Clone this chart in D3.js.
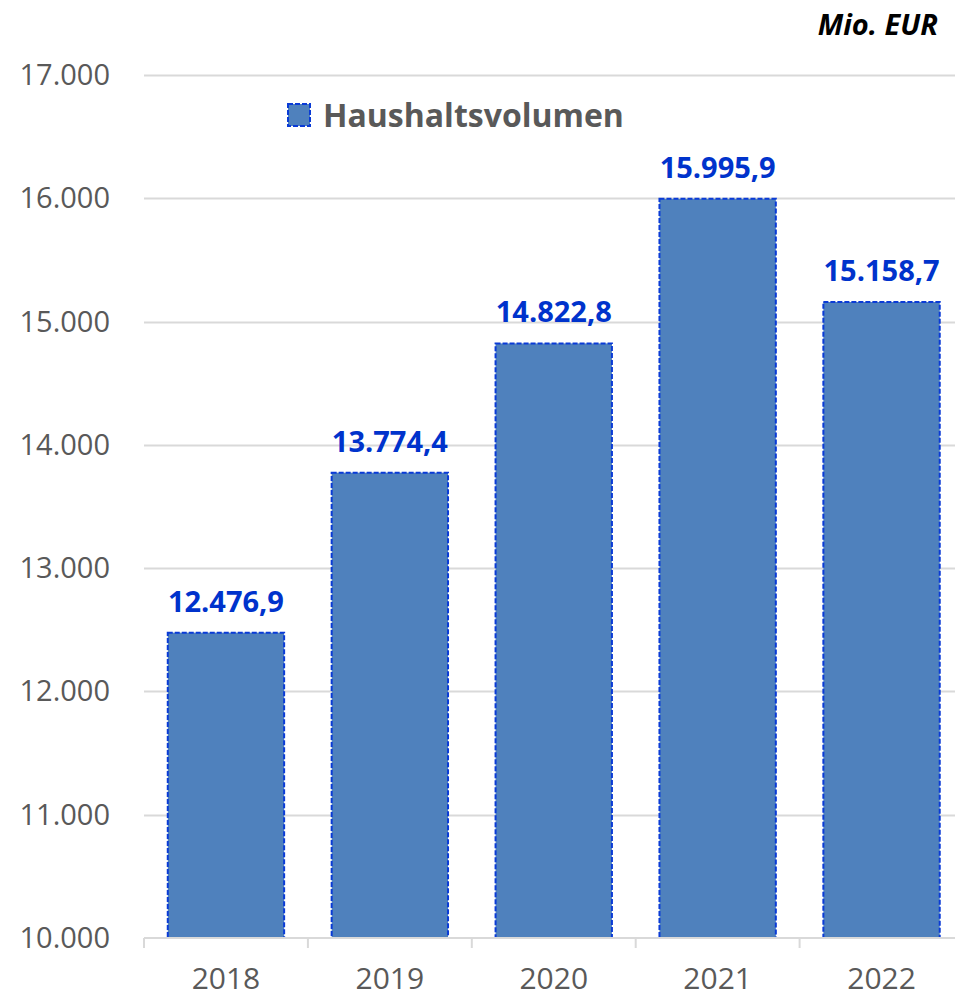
<!DOCTYPE html>
<html>
<head>
<meta charset="utf-8">
<script src="https://cdn.jsdelivr.net/npm/d3@7"></script>
<style>
  body { margin: 0; background: #fff; }
  svg { display: block; }
  text { font-family: "Open Sans", "Liberation Sans", sans-serif; }
</style>
</head>
<body>
<div id="chart"></div>
<script>
const years = ['2018', '2019', '2020', '2021', '2022'];
const volumes = [12476.9, 13774.4, 14822.8, 15995.9, 15158.7];
const yTicks = [10000, 11000, 12000, 13000, 14000, 15000, 16000, 17000];

const width = 955;
const height = 997;
const margin = { top: 75, right: -8.5, bottom: 59, left: 144 };

const barFill = '#4f81bd';
const barStroke = '#0a3bd6';
const labelBlue = '#0033cc';
const grey = '#595959';
const gridColor = '#d9d9d9';

const fmt = (v) => v.toLocaleString('de-DE', { minimumFractionDigits: 1, maximumFractionDigits: 1 });
const fmtTick = (v) => v.toLocaleString('de-DE');

const svg = d3.select('#chart')
  .append('svg')
  .attr('width', width)
  .attr('height', height);

const x = d3.scaleBand()
  .domain(years)
  .range([margin.left, width - margin.right])
  .paddingInner(0.29)
  .paddingOuter(0.145);

const y = d3.scaleLinear()
  .domain([10000, 17000])
  .range([height - margin.bottom, margin.top]);

// gridlines
svg.append('g')
  .selectAll('line')
  .data(yTicks.slice(1))
  .join('line')
  .attr('x1', margin.left)
  .attr('x2', width - margin.right)
  .attr('y1', (d) => Math.round(y(d)) + 0.5)
  .attr('y2', (d) => Math.round(y(d)) + 0.5)
  .attr('stroke', gridColor)
  .attr('stroke-width', 2);

// y labels
svg.append('g')
  .selectAll('text')
  .data(yTicks)
  .join('text')
  .attr('x', 110)
  .attr('y', (d) => y(d) + 10)
  .attr('text-anchor', 'end')
  .attr('font-size', 29)
  .attr('fill', grey)
  .text(fmtTick);

// bars
svg.append('g')
  .selectAll('rect')
  .data(years)
  .join('rect')
  .attr('x', (d) => x(d))
  .attr('y', (d, i) => y(volumes[i]))
  .attr('width', x.bandwidth())
  .attr('height', (d, i) => y(10000) - y(volumes[i]))
  .attr('fill', barFill)
  .attr('stroke', barStroke)
  .attr('stroke-width', 2)
  .attr('stroke-dasharray', '5,2');

// value labels
svg.append('g')
  .selectAll('text')
  .data(years)
  .join('text')
  .attr('x', (d) => x(d) + x.bandwidth() / 2)
  .attr('y', (d, i) => y(volumes[i]) - 21)
  .attr('text-anchor', 'middle')
  .attr('font-size', 29)
  .attr('font-weight', 'bold')
  .attr('fill', labelBlue)
  .text((d, i) => fmt(volumes[i]));

// x axis
const xAxis = svg.append('g')
  .attr('transform', `translate(0,${y(10000)})`);

xAxis.append('line')
  .attr('x1', margin.left)
  .attr('x2', width - margin.right)
  .attr('stroke', gridColor)
  .attr('stroke-width', 2);

const step = x.step();
const bounds = years.map((d) => x(d) - (step - x.bandwidth()) / 2);
bounds.push(width - margin.right);

xAxis.selectAll('line.tick')
  .data(bounds)
  .join('line')
  .attr('class', 'tick')
  .attr('x1', (d) => d)
  .attr('x2', (d) => d)
  .attr('y1', 0)
  .attr('y2', 10)
  .attr('stroke', gridColor)
  .attr('stroke-width', 2);

xAxis.selectAll('text')
  .data(years)
  .join('text')
  .attr('x', (d) => x(d) + x.bandwidth() / 2)
  .attr('y', 51)
  .attr('text-anchor', 'middle')
  .attr('font-size', 30)
  .attr('fill', grey)
  .text((d) => d);

// legend
const legend = svg.append('g').attr('transform', 'translate(288,104)');
legend.append('rect')
  .attr('width', 22)
  .attr('height', 22)
  .attr('fill', barFill)
  .attr('stroke', barStroke)
  .attr('stroke-width', 2)
  .attr('stroke-dasharray', '5,2');
legend.append('text')
  .attr('x', 35)
  .attr('y', 23)
  .attr('font-size', 32)
  .attr('font-weight', 'bold')
  .attr('fill', grey)
  .text('Haushaltsvolumen');

// unit
svg.append('text')
  .attr('x', 938)
  .attr('y', 35)
  .attr('text-anchor', 'end')
  .attr('font-size', 29)
  .attr('font-weight', 'bold')
  .attr('font-style', 'italic')
  .attr('fill', '#000')
  .text('Mio. EUR');
</script>
</body>
</html>
